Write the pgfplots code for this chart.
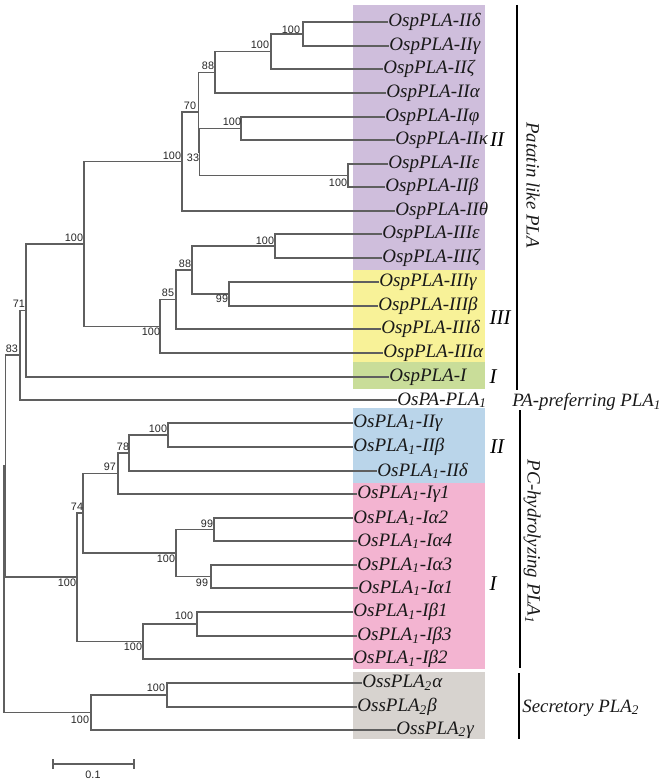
\documentclass[border=0pt]{standalone}
\usepackage{pgfplots}
\pgfplotsset{compat=1.18}
\usepackage{fontspec}
\setmainfont{Liberation Serif}
\newfontfamily\sfb{Liberation Sans}
\definecolor{cpurple}{RGB}{207,190,220}
\definecolor{cyellow}{RGB}{248,242,152}
\definecolor{cgreen}{RGB}{201,221,153}
\definecolor{cblue}{RGB}{186,213,234}
\definecolor{cpink}{RGB}{243,180,209}
\definecolor{cgrey}{RGB}{215,211,207}
\definecolor{treec}{RGB}{95,95,95}
\begin{document}
\begin{tikzpicture}
\begin{axis}[x=0.5pt,y=0.5pt,xmin=0,xmax=661,ymin=0,ymax=781,y dir=reverse,
  hide axis,clip=false,
  br/.style={treec,line width=0.55pt,mark=none},
  box/.style={draw=none,mark=none},
  bar/.style={black,line width=0.75pt,mark=none}]
\addplot[draw=none,mark=none] coordinates {(0,0)(661,781)};
% coloured boxes
\addplot[box,fill=cpurple] coordinates {(353,5)(485,5)(485,270)(353,270)};
\addplot[box,fill=cyellow] coordinates {(353,270)(485,270)(485,362)(353,362)};
\addplot[box,fill=cgreen] coordinates {(353,362)(485,362)(485,389)(353,389)};
\addplot[box,fill=cblue] coordinates {(353,408)(485,408)(485,483)(353,483)};
\addplot[box,fill=cpink] coordinates {(353,483)(485,483)(485,669)(353,669)};
\addplot[box,fill=cgrey] coordinates {(353,672)(485,672)(485,739)(353,739)};
% tree
\addplot[br] coordinates {(388,22)(303,22)(303,46)(389,46)};
\addplot[br] coordinates {(303,34)(271,34)(271,69)(383,69)};
\addplot[br] coordinates {(271,51.5)(215,51.5)(215,93)(386,93)};
\addplot[br] coordinates {(385,117)(241,117)(241,140)(395,140)};
\addplot[br] coordinates {(388,164)(348,164)(348,187)(385,187)};
\addplot[br] coordinates {(241,128.5)(199.5,128.5)(199.5,175.5)(348,175.5)};
\addplot[br] coordinates {(215,72.5)(198.5,72.5)(198.5,152)(199.5,152)};
\addplot[br] coordinates {(198.5,112)(182,112)(182,211)(395,211)};
\addplot[br] coordinates {(382,234)(275,234)(275,258)(382,258)};
\addplot[br] coordinates {(379,282)(229,282)(229,306)(378,306)};
\addplot[br] coordinates {(275,246)(192,246)(192,294)(229,294)};
\addplot[br] coordinates {(192,270)(176,270)(176,329)(381,329)};
\addplot[br] coordinates {(176,299.5)(160,299.5)(160,353)(383,353)};
\addplot[br] coordinates {(182,161.5)(84,161.5)(84,326.5)(160,326.5)};
\addplot[br] coordinates {(84,244)(26,244)(26,377)(389,377)};
\addplot[br] coordinates {(26,310.5)(20,310.5)(20,400)(397,400)};
\addplot[br] coordinates {(353,423)(168,423)(168,447)(353,447)};
\addplot[br] coordinates {(168,435)(129,435)(129,471)(377,471)};
\addplot[br] coordinates {(129,453)(118,453)(118,494)(357,494)};
\addplot[br] coordinates {(353,518)(214,518)(214,541)(357,541)};
\addplot[br] coordinates {(357,565)(211,565)(211,588)(358,588)};
\addplot[br] coordinates {(214,529.5)(176,529.5)(176,576.5)(211,576.5)};
\addplot[br] coordinates {(118,473.5)(83,473.5)(83,553)(176,553)};
\addplot[br] coordinates {(353,612)(197,612)(197,636)(357,636)};
\addplot[br] coordinates {(197,624)(143,624)(143,659)(353,659)};
\addplot[br] coordinates {(83,513)(77,513)(77,641.5)(143,641.5)};
\addplot[br] coordinates {(20,355)(5.5,355)(5.5,577)(77,577)};
\addplot[br] coordinates {(362,683)(167,683)(167,707)(357,707)};
\addplot[br] coordinates {(167,695)(91,695)(91,730)(396,730)};
\addplot[br] coordinates {(5.5,466)(4,466)(4,712.5)(91,712.5)};
% scale bar
\addplot[br] coordinates {(53,764)(134,764)};
\addplot[br] coordinates {(53,759)(53,769)};
\addplot[br] coordinates {(134,759)(134,769)};
% group bars
\addplot[bar] coordinates {(517,5)(517,390)};
\addplot[bar] coordinates {(520,410)(520,668)};
\addplot[bar] coordinates {(519,673)(519,739)};
% bootstrap values
\begin{scope}[every node/.style={font=\sfb\fontsize{5.4}{6}\selectfont,inner sep=0pt,text=black!85}]
\node at (axis cs:291,30) {100};
\node at (axis cs:260,45) {100};
\node at (axis cs:208,66) {88};
\node at (axis cs:232,122) {100};
\node at (axis cs:338,183) {100};
\node at (axis cs:193,158) {33};
\node at (axis cs:190,106) {70};
\node at (axis cs:172,156) {100};
\node at (axis cs:265,241) {100};
\node at (axis cs:222,299) {99};
\node at (axis cs:185,264) {88};
\node at (axis cs:168,293) {85};
\node at (axis cs:151,332) {100};
\node at (axis cs:74,238) {100};
\node at (axis cs:19,304) {71};
\node at (axis cs:12,349) {83};
\node at (axis cs:158,429) {100};
\node at (axis cs:123,447) {78};
\node at (axis cs:110,467) {97};
\node at (axis cs:77,507) {74};
\node at (axis cs:207,524) {99};
\node at (axis cs:166,559) {100};
\node at (axis cs:202,583) {99};
\node at (axis cs:67,583) {100};
\node at (axis cs:184,616) {100};
\node at (axis cs:133,647) {100};
\node at (axis cs:156,688) {100};
\node at (axis cs:80,720) {100};
\node at (axis cs:93,775) {0.1};
\end{scope}
% tip labels
\begin{scope}[every node/.style={font=\itshape\fontsize{9.5}{10}\selectfont,inner sep=0pt,anchor=west,text=black!90}]
\node at (axis cs:388,22) {OspPLA-IIδ};
\node at (axis cs:389,46) {OspPLA-IIγ};
\node at (axis cs:383,69) {OspPLA-IIζ};
\node at (axis cs:386,93) {OspPLA-IIα};
\node at (axis cs:385,117) {OspPLA-IIφ};
\node at (axis cs:395,140) {OspPLA-IIκ};
\node at (axis cs:388,164) {OspPLA-IIε};
\node at (axis cs:385,187) {OspPLA-IIβ};
\node at (axis cs:395,211) {OspPLA-IIθ};
\node at (axis cs:382,234) {OspPLA-IIIε};
\node at (axis cs:382,258) {OspPLA-IIIζ};
\node at (axis cs:379,282) {OspPLA-IIIγ};
\node at (axis cs:378,306) {OspPLA-IIIβ};
\node at (axis cs:381,329) {OspPLA-IIIδ};
\node at (axis cs:383,353) {OspPLA-IIIα};
\node at (axis cs:389,377) {OspPLA-I};
\node at (axis cs:397,400) {OsPA-PLA\textsubscript{1}};
\node at (axis cs:353,423) {OsPLA\textsubscript{1}-IIγ};
\node at (axis cs:353,447) {OsPLA\textsubscript{1}-IIβ};
\node at (axis cs:377,471) {OsPLA\textsubscript{1}-IIδ};
\node at (axis cs:357,494) {OsPLA\textsubscript{1}-Iγ1};
\node at (axis cs:353,518) {OsPLA\textsubscript{1}-Iα2};
\node at (axis cs:357,541) {OsPLA\textsubscript{1}-Iα4};
\node at (axis cs:357,565) {OsPLA\textsubscript{1}-Iα3};
\node at (axis cs:358,588) {OsPLA\textsubscript{1}-Iα1};
\node at (axis cs:353,612) {OsPLA\textsubscript{1}-Iβ1};
\node at (axis cs:357,636) {OsPLA\textsubscript{1}-Iβ3};
\node at (axis cs:353,659) {OsPLA\textsubscript{1}-Iβ2};
\node at (axis cs:362,683) {OssPLA\textsubscript{2}α};
\node at (axis cs:357,707) {OssPLA\textsubscript{2}β};
\node at (axis cs:396,730) {OssPLA\textsubscript{2}γ};
\end{scope}
% roman numerals
\begin{scope}[every node/.style={font=\itshape\fontsize{10.5}{11}\selectfont,inner sep=0pt}]
\node at (axis cs:497,140) {II};
\node at (axis cs:500,318) {III};
\node at (axis cs:493,377) {I};
\node at (axis cs:497,447) {II};
\node at (axis cs:493,584) {I};
\end{scope}
% group names
\begin{scope}[every node/.style={font=\itshape\fontsize{9.4}{10}\selectfont,inner sep=0pt,text=black!90}]
\node[rotate=-90] at (axis cs:533,185) {Patatin like PLA};
\node[anchor=west] at (axis cs:512,402) {PA-preferring PLA\textsubscript{1}};
\node[rotate=-90] at (axis cs:532,542) {PC-hydrolyzing PLA\textsubscript{1}};
\node[anchor=west] at (axis cs:522,708) {Secretory PLA\textsubscript{2}};
\end{scope}
\end{axis}
\end{tikzpicture}
\end{document}
